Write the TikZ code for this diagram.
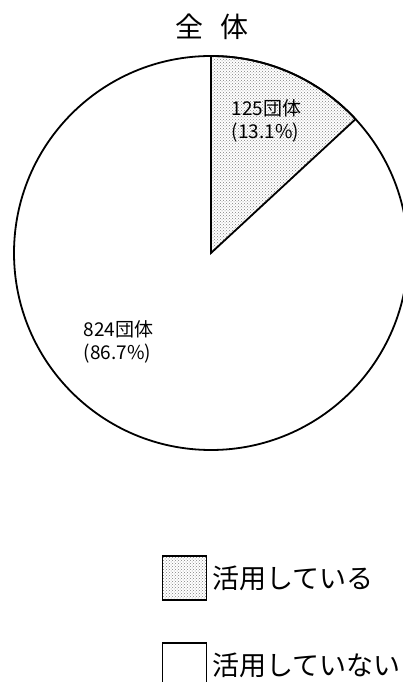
\documentclass[tikz,border=0pt]{standalone}
\usepackage{fontspec}
\setmainfont{Noto Sans CJK JP}
\usetikzlibrary{positioning,patterns}

\begin{document}
\begin{tikzpicture}[x=1pt,y=1pt,line width=1.8pt]
  \tikzstyle{hatch}=[pattern=crosshatch dots,pattern color=gray]
  \tikzstyle{key}=[draw,minimum width=44pt,minimum height=44pt,inner sep=0pt]
  \tikzstyle{keytext}=[font=\fontsize{27}{30}\selectfont,inner sep=0pt]
  \tikzstyle{share}=[font=\fontsize{19}{23}\selectfont,align=left,anchor=west,inner sep=0pt]
  \useasboundingbox (0,0) rectangle (403,682);
  % pie
  \coordinate (O) at (211,429);
  \draw[fill=white] (O) circle[radius=197];
  \draw[hatch] (O) -- ++(90:197) arc[start angle=90,end angle=42.8,radius=197] -- cycle;
  \node (title) at (212,655) {\fontsize{28}{32}\selectfont 全\hspace{0.6em}体};
  \node[share] (used) at (231,561) {125団体\\(13.1\%)};
  \node[share] (notused) at (83,340) {824団体\\(86.7\%)};
  % legend
  \node[key,hatch] (k1) at (184.5,104) {};
  \node[keytext] (t1) [right=4pt of k1] {活用している};
  \node[key] (k2) at (184.5,17) {};
  \node[keytext] (t2) [right=4pt of k2] {活用していない};
\end{tikzpicture}
\end{document}
